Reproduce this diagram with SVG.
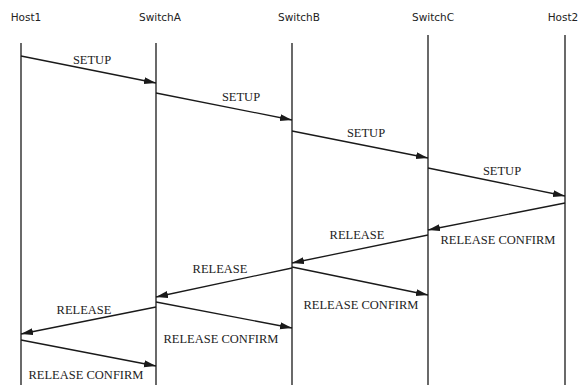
<svg xmlns="http://www.w3.org/2000/svg" width="585" height="385" viewBox="0 0 585 385">
  <style>
    .life { stroke: #1a1a1a; stroke-width: 1.3; fill: none; }
    .msg { stroke: #1a1a1a; stroke-width: 1.3; fill: none; marker-end: url(#head); }
    .hdr { font-family: "DejaVu Sans", "Liberation Sans", sans-serif; font-size: 10.5px; fill: #222; text-anchor: middle; }
    .lbl { font-family: "Liberation Serif", "Times New Roman", serif; font-size: 12.5px; fill: #222; text-anchor: middle; }
  </style>
  <defs>
    <marker id="head" markerUnits="userSpaceOnUse" markerWidth="13" markerHeight="8" refX="12" refY="3.5" orient="auto">
      <path d="M0,0 L12,3.5 L0,7 Z" fill="#1a1a1a"/>
    </marker>
  </defs>
  <rect width="585" height="385" fill="#ffffff"/>

  <!-- participants with their lifelines -->
  <g id="host1">
    <text class="hdr" x="26" y="21">Host1</text>
    <line class="life" x1="21" y1="43" x2="21" y2="385"/>
  </g>
  <g id="switchA">
    <text class="hdr" x="160" y="21">SwitchA</text>
    <line class="life" x1="156" y1="43" x2="156" y2="385"/>
  </g>
  <g id="switchB">
    <text class="hdr" x="299" y="21">SwitchB</text>
    <line class="life" x1="292" y1="43" x2="292" y2="385"/>
  </g>
  <g id="switchC">
    <text class="hdr" x="433" y="21">SwitchC</text>
    <line class="life" x1="428" y1="35" x2="428" y2="385"/>
  </g>
  <g id="host2">
    <text class="hdr" x="563" y="21">Host2</text>
    <line class="life" x1="565" y1="35" x2="565" y2="385"/>
  </g>

  <!-- signalling messages -->
  <g id="messages">
    <line class="msg" x1="21" y1="56" x2="156" y2="83"/>
    <text class="lbl" x="92" y="64">SETUP</text>

    <line class="msg" x1="156" y1="93" x2="292" y2="120"/>
    <text class="lbl" x="241" y="101">SETUP</text>

    <line class="msg" x1="292" y1="131" x2="428" y2="158"/>
    <text class="lbl" x="366" y="137">SETUP</text>

    <line class="msg" x1="428" y1="168" x2="565" y2="196"/>
    <text class="lbl" x="502" y="175">SETUP</text>

    <line class="msg" x1="565" y1="203" x2="428" y2="230"/>
    <text class="lbl" x="498" y="244">RELEASE CONFIRM</text>

    <line class="msg" x1="428" y1="235" x2="292" y2="263"/>
    <text class="lbl" x="357" y="239">RELEASE</text>

    <line class="msg" x1="292" y1="267" x2="428" y2="295"/>
    <text class="lbl" x="361" y="309">RELEASE CONFIRM</text>

    <line class="msg" x1="292" y1="268" x2="156" y2="297"/>
    <text class="lbl" x="220" y="273">RELEASE</text>

    <line class="msg" x1="156" y1="302" x2="292" y2="328"/>
    <text class="lbl" x="221" y="343">RELEASE CONFIRM</text>

    <line class="msg" x1="156" y1="307" x2="21" y2="334"/>
    <text class="lbl" x="84" y="314">RELEASE</text>

    <line class="msg" x1="21" y1="340" x2="156" y2="366"/>
    <text class="lbl" x="86" y="379">RELEASE CONFIRM</text>
  </g>
</svg>
